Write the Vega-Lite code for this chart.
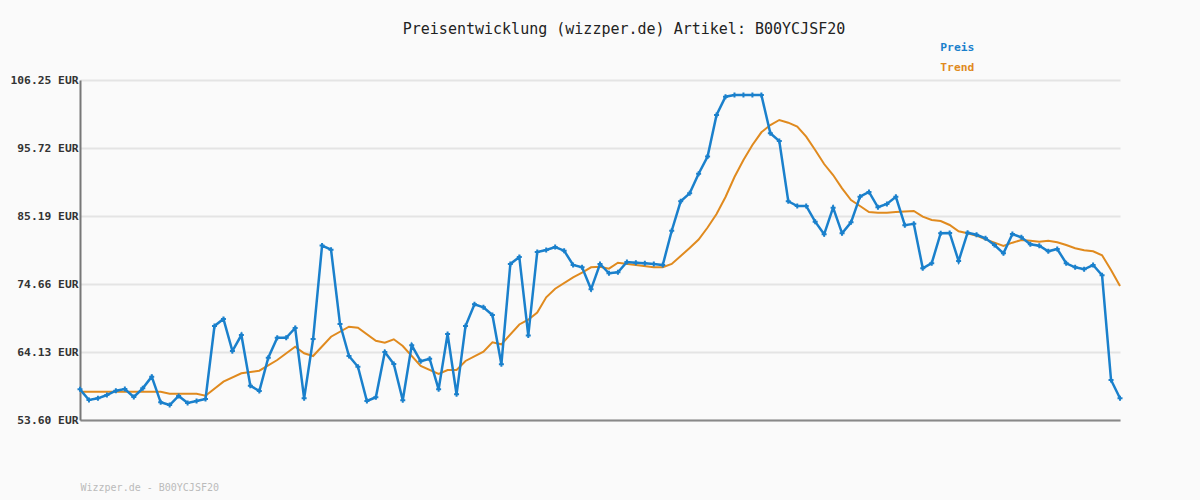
{
"$schema": "https://vega.github.io/schema/vega-lite/v6.json",
"width": 1040, "height": 340,
"autosize": "none",
"padding": {"left": 80, "top": 80, "right": 80, "bottom": 80},
"background": "#fafafa",
"config": {"view": {"stroke": null}, "font": "DejaVu Sans Mono"},
"title": {"text": "Preisentwicklung (wizzper.de) Artikel: B00YCJSF20", "font": "DejaVu Sans Mono", "fontSize": 15, "fontWeight": "normal", "color": "#222", "anchor": "middle", "dx": 24, "offset": -10, "baseline": "bottom"},
"datasets": {
"preis": [
{"i":0,"v":58.35},{"i":1,"v":56.70},{"i":2,"v":56.96},{"i":3,"v":57.47},{"i":4,"v":58.14},{"i":5,"v":58.40},{"i":6,"v":57.16},{"i":7,"v":58.51},{"i":8,"v":60.31},{"i":9,"v":56.34},
{"i":10,"v":55.92},{"i":11,"v":57.32},{"i":12,"v":56.23},{"i":13,"v":56.54},{"i":14,"v":56.85},{"i":15,"v":68.16},{"i":16,"v":69.24},{"i":17,"v":64.28},{"i":18,"v":66.76},{"i":19,"v":58.91},
{"i":20,"v":58.09},{"i":21,"v":63.25},{"i":22,"v":66.34},{"i":23,"v":66.34},{"i":24,"v":67.85},{"i":25,"v":56.96},{"i":26,"v":66.14},{"i":27,"v":80.62},{"i":28,"v":79.97},{"i":29,"v":68.47},
{"i":30,"v":63.51},{"i":31,"v":61.85},{"i":32,"v":56.54},{"i":33,"v":57.12},{"i":34,"v":64.13},{"i":35,"v":62.27},{"i":36,"v":56.65},{"i":37,"v":65.17},{"i":38,"v":62.69},{"i":39,"v":63.09},
{"i":40,"v":58.35},{"i":41,"v":66.92},{"i":42,"v":57.58},{"i":43,"v":68.16},{"i":44,"v":71.52},{"i":45,"v":71.05},{"i":46,"v":69.86},{"i":47,"v":62.23},{"i":48,"v":77.76},{"i":49,"v":78.84},
{"i":50,"v":66.69},{"i":51,"v":79.62},{"i":52,"v":79.93},{"i":53,"v":80.39},{"i":54,"v":79.82},{"i":55,"v":77.60},{"i":56,"v":77.25},{"i":57,"v":73.84},{"i":58,"v":77.76},{"i":59,"v":76.32},
{"i":60,"v":76.47},{"i":61,"v":78.07},{"i":62,"v":77.96},{"i":63,"v":77.87},{"i":64,"v":77.76},{"i":65,"v":77.60},{"i":66,"v":82.91},{"i":67,"v":87.47},{"i":68,"v":88.70},{"i":69,"v":91.74},
{"i":70,"v":94.40},{"i":71,"v":100.83},{"i":72,"v":103.66},{"i":73,"v":103.93},{"i":74,"v":103.93},{"i":75,"v":103.93},{"i":76,"v":103.93},{"i":77,"v":98.00},{"i":78,"v":96.80},{"i":79,"v":87.47},
{"i":80,"v":86.74},{"i":81,"v":86.74},{"i":82,"v":84.31},{"i":83,"v":82.36},{"i":84,"v":86.48},{"i":85,"v":82.51},{"i":86,"v":84.21},{"i":87,"v":88.18},{"i":88,"v":88.91},{"i":89,"v":86.54},
{"i":90,"v":87.05},{"i":91,"v":88.16},{"i":92,"v":83.77},{"i":93,"v":83.98},{"i":94,"v":77.09},{"i":95,"v":77.88},{"i":96,"v":82.53},{"i":97,"v":82.56},{"i":98,"v":78.22},{"i":99,"v":82.60},
{"i":100,"v":82.29},{"i":101,"v":81.74},{"i":102,"v":80.70},{"i":103,"v":79.41},{"i":104,"v":82.40},{"i":105,"v":81.89},{"i":106,"v":80.81},{"i":107,"v":80.59},{"i":108,"v":79.72},{"i":109,"v":80.08},
{"i":110,"v":77.87},{"i":111,"v":77.25},{"i":112,"v":76.94},{"i":113,"v":77.60},{"i":114,"v":76.01},{"i":115,"v":59.79},{"i":116,"v":56.96}
],
"trend": [
{"i":0,"v":57.98},{"i":9,"v":57.98},{"i":10,"v":57.67},{"i":13,"v":57.67},{"i":14,"v":57.36},{"i":16,"v":59.53},{"i":18,"v":60.83},{"i":20,"v":61.23},{"i":22,"v":62.89},{"i":24,"v":64.95},
{"i":25,"v":63.93},{"i":26,"v":63.51},{"i":28,"v":66.50},{"i":30,"v":68.05},{"i":31,"v":67.89},{"i":33,"v":65.88},{"i":34,"v":65.57},{"i":35,"v":66.10},{"i":36,"v":65.06},{"i":38,"v":61.96},
{"i":40,"v":60.72},{"i":41,"v":61.34},{"i":42,"v":61.34},{"i":43,"v":62.74},{"i":45,"v":64.18},{"i":46,"v":65.63},{"i":47,"v":65.32},{"i":49,"v":68.39},{"i":50,"v":69.13},{"i":51,"v":70.25},
{"i":52,"v":72.60},{"i":53,"v":73.93},{"i":55,"v":75.70},{"i":56,"v":76.41},{"i":57,"v":77.25},{"i":58,"v":77.34},{"i":59,"v":77.03},{"i":60,"v":77.96},{"i":62,"v":77.60},{"i":64,"v":77.25},
{"i":65,"v":77.25},{"i":66,"v":77.76},{"i":67,"v":79.00},{"i":68,"v":80.24},{"i":69,"v":81.55},{"i":70,"v":83.41},{"i":71,"v":85.50},{"i":72,"v":88.13},{"i":73,"v":91.23},{"i":74,"v":93.86},
{"i":75,"v":96.19},{"i":76,"v":98.15},{"i":77,"v":99.28},{"i":78,"v":100.06},{"i":79,"v":99.64},{"i":80,"v":99.02},{"i":81,"v":97.47},{"i":82,"v":95.41},{"i":83,"v":93.24},{"i":84,"v":91.54},
{"i":85,"v":89.48},{"i":86,"v":87.67},{"i":87,"v":86.74},{"i":88,"v":85.81},{"i":89,"v":85.70},{"i":90,"v":85.70},{"i":91,"v":85.81},{"i":92,"v":85.89},{"i":93,"v":85.96},{"i":94,"v":85.08},
{"i":95,"v":84.57},{"i":96,"v":84.42},{"i":97,"v":83.80},{"i":98,"v":82.82},{"i":99,"v":82.51},{"i":100,"v":82.14},{"i":101,"v":81.58},{"i":102,"v":81.06},{"i":103,"v":80.54},{"i":104,"v":81.06},
{"i":105,"v":81.47},{"i":106,"v":81.37},{"i":107,"v":81.21},{"i":108,"v":81.37},{"i":109,"v":81.12},{"i":110,"v":80.70},{"i":111,"v":80.19},{"i":112,"v":79.88},{"i":113,"v":79.72},{"i":114,"v":79.10},
{"i":115,"v":76.83},{"i":116,"v":74.35}
]
},
"encoding": {
"x": {"field": "i", "type": "quantitative", "scale": {"domain": [0, 116], "nice": false, "zero": false},
  "axis": {"labels": false, "ticks": false, "grid": false, "domainColor": "#888", "domainWidth": 2,
    "title": "Wizzper.de - B00YCJSF20", "titleFont": "DejaVu Sans Mono", "titleFontSize": 10, "titleFontWeight": "normal", "titleColor": "#bbb",
    "titleAnchor": "start", "titleAlign": "left", "titleX": 0, "titleY": 67, "titleBaseline": "middle"}},
"y": {"field": "v", "type": "quantitative", "scale": {"domain": [53.6, 106.25], "nice": false, "zero": false},
  "axis": {"values": [53.6, 64.13, 74.66, 85.19, 95.72, 106.25], "labelExpr": "format(datum.value, '.2f') + ' EUR'",
    "labelFont": "DejaVu Sans Mono", "labelFontWeight": "bold", "labelFontSize": 11.3, "labelColor": "#333",
    "tickSize": 0, "labelPadding": 2, "domainColor": "#777", "domainWidth": 2, "gridColor": "#e4e4e4", "gridWidth": 2, "title": null}},
"color": {"field": "s", "type": "nominal", "scale": {"domain": ["Preis", "Trend"], "range": ["#1a80cc", "#e08a1e"]},
  "legend": {"orient": "none", "legendX": 849, "legendY": -38, "title": null, "symbolSize": 0, "symbolOpacity": 0, "symbolStrokeWidth": 0, "labelOffset": 0,
    "labelFont": "DejaVu Sans Mono", "labelFontWeight": "bold", "labelFontSize": 11.3, "rowPadding": 8,
    "encode": {"labels": {"update": {"fill": {"scale": "color", "field": "value"}}}}}}
},
"layer": [
{"data": {"name": "trend"}, "transform": [{"calculate": "'Trend'", "as": "s"}], "mark": {"type": "line", "strokeWidth": 2}},
{"data": {"name": "preis"}, "transform": [{"calculate": "'Preis'", "as": "s"}], "mark": {"type": "line", "strokeWidth": 2.5}},
{"data": {"name": "preis"}, "transform": [{"calculate": "'Preis'", "as": "s"}], "mark": {"type": "point", "shape": "cross", "filled": true, "size": 25, "opacity": 1}}
]
}
